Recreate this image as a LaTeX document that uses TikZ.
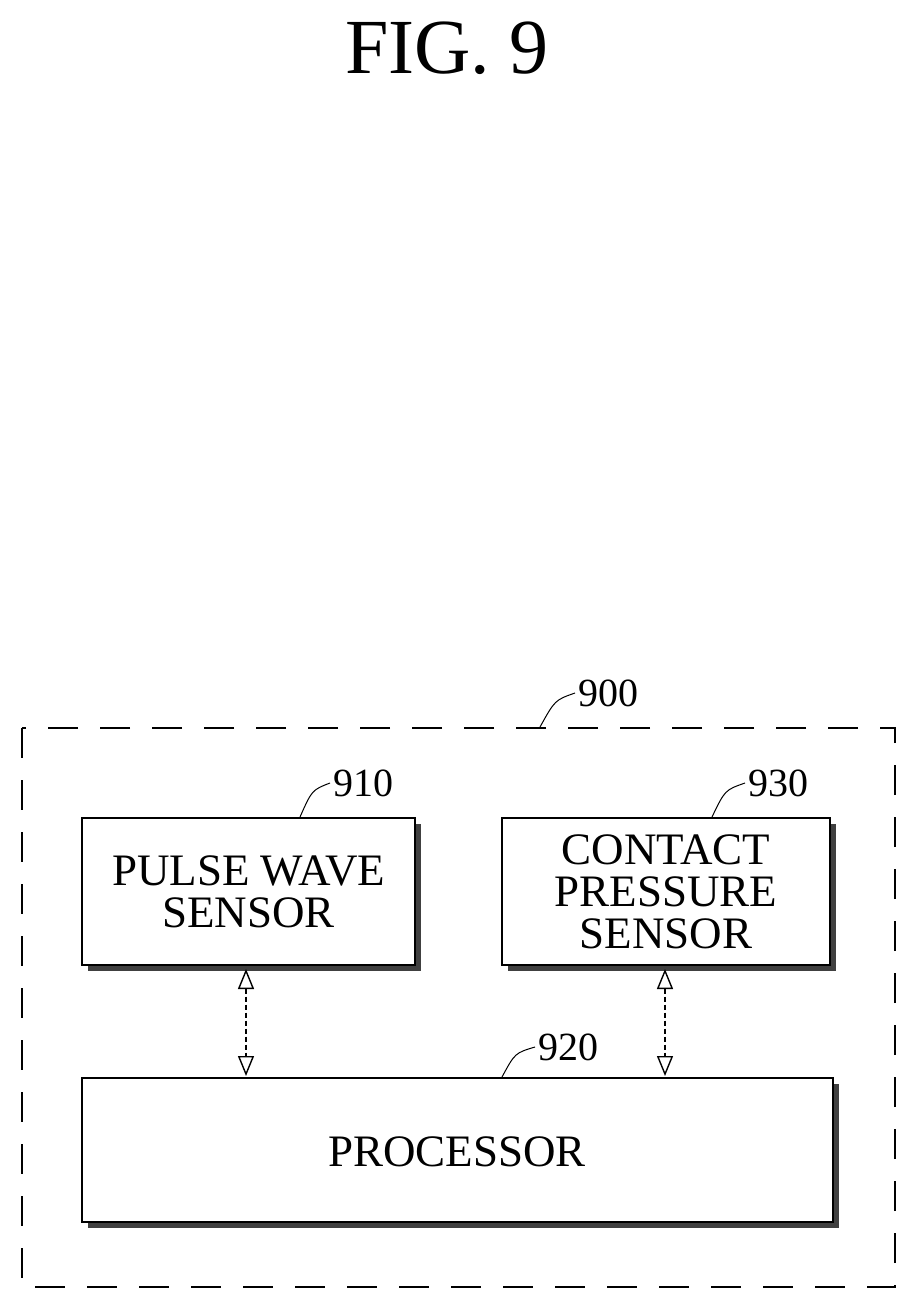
\documentclass[tikz,border=0pt]{standalone}
\usepackage{fontspec}
\setmainfont{Liberation Serif}
\usetikzlibrary{arrows.meta}
\begin{document}
\begin{tikzpicture}[x=1pt,y=-1pt,
  blk/.style={draw,line width=1.5pt,fill=white,inner sep=0pt},
  shadow/.style={fill=black!75},
  lbl/.style={font=\fontsize{40}{40}\selectfont},
  txt/.style={font=\fontsize{45}{42}\selectfont,align=center},
  lead/.style={line width=1pt},
  dar/.style={line width=1.4pt,dash pattern=on 5pt off 3pt,{Triangle[open,length=20pt,width=16pt,line width=1.4pt]}-{Triangle[open,length=20pt,width=16pt,line width=1.4pt]}}]
\useasboundingbox (0,0) rectangle (919,1309);
\node (title) at (447,48) {\fontsize{78}{78}\selectfont FIG. 9};
% outer dashed
\draw[line width=1.5pt,dash pattern=on 30pt off 22pt] (22,728) rectangle (895,1287);
\coordinate (o) at (540,727);
\node[lbl,anchor=west] (l900) at (575,693) {900};
\draw[lead] (o) .. controls (555,700) .. (l900.west);
% boxes
\fill[shadow] (88,824) rectangle (421,971);
\draw[blk] (82,818) rectangle (415,965);
\node[txt] (b910) at (248.5,891.5) {PULSE WAVE\\SENSOR};
\fill[shadow] (508,824) rectangle (836,971);
\draw[blk] (502,818) rectangle (830,965);
\node[txt] (b930) at (666,892) {CONTACT\\PRESSURE\\SENSOR};
\fill[shadow] (88,1084) rectangle (839,1228);
\draw[blk] (82,1078) rectangle (833,1222);
\node[txt] (b920) at (457,1152) {PROCESSOR};
% labels
\coordinate (c910) at (300,817);
\node[lbl,anchor=west] (l910) at (330,783) {910};
\draw[lead] (c910) .. controls (312,790) .. (l910.west);
\coordinate (c930) at (712,817);
\node[lbl,anchor=west] (l930) at (745,783) {930};
\draw[lead] (c930) .. controls (725,790) .. (l930.west);
\coordinate (c920) at (502,1077);
\node[lbl,anchor=west] (l920) at (535,1047) {920};
\draw[lead] (c920) .. controls (515,1053) .. (l920.west);
% arrows
\coordinate (a1) at (246,969); \coordinate (a2) at (246,1076);
\coordinate (b1) at (665,969); \coordinate (b2) at (665,1076);
\draw[dar] (a1) -- (a2);
\draw[dar] (b1) -- (b2);
\end{tikzpicture}
\end{document}
